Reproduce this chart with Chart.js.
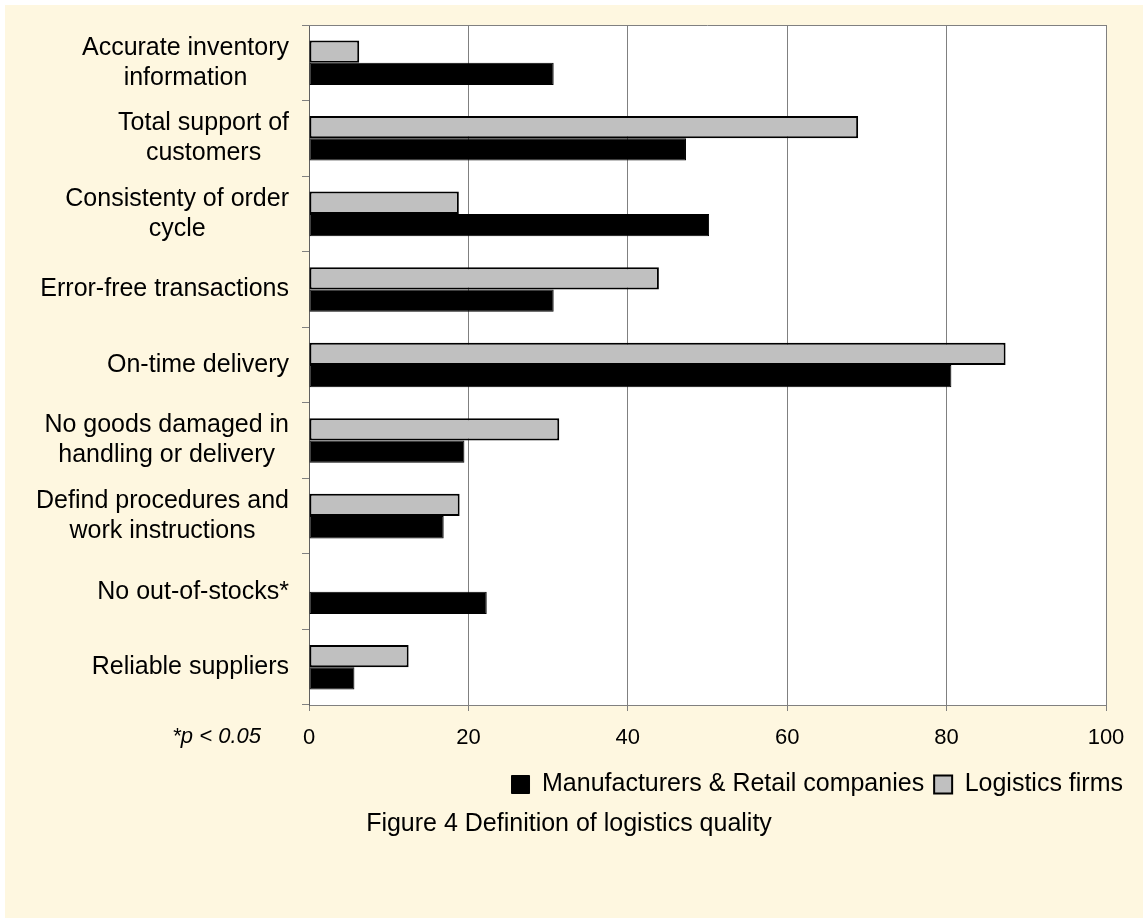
<!DOCTYPE html>
<html>
<head>
<meta charset="utf-8">
<script src="https://cdn.jsdelivr.net/npm/chart.js@4.4.0/dist/chart.umd.min.js"></script>
<style>
  body { margin: 0; background: #ffffff; }
  #wrap { position: absolute; left: 5px; top: 5px; width: 1138px; height: 913px; background: #fef7e0; }
</style>
</head>
<body>
<div id="wrap"><canvas id="chart"></canvas></div>
<script>
const categories = [
    ['Accurate inventory', 'information'],
    ['Total support of', 'customers'],
    ['Consistenty of order', 'cycle'],
    'Error-free transactions',
    'On-time delivery',
    ['No goods damaged in', 'handling or delivery'],
    ['Defind procedures and', 'work instructions'],
    'No out-of-stocks*',
    'Reliable suppliers'
];
const manufacturers = [30.7, 47.3, 50.2, 30.7, 80.6, 19.5, 16.9, 22.3, 5.7];
const logistics = [6.3, 68.9, 18.8, 43.9, 87.4, 31.4, 18.9, 0, 12.5];
const xTicks = [0, 20, 40, 60, 80, 100];
const note = '*p < 0.05';
const caption = 'Figure 4 Definition of logistics quality';

const FONT = "'Liberation Sans', Arial, sans-serif";

// white plot area + top frame line
const framePlugin = {
    id: 'frame',
    beforeDraw(chart) {
        const a = chart.chartArea;
        const ctx = chart.ctx;
        ctx.save();
        ctx.fillStyle = '#ffffff';
        ctx.fillRect(a.left, a.top, a.right - a.left, a.bottom - a.top);
        ctx.restore();
    },
    afterDraw(chart) {
        const a = chart.chartArea;
        const ctx = chart.ctx;
        ctx.save();
        ctx.strokeStyle = '#808080';
        ctx.lineWidth = 1;
        ctx.beginPath();
        ctx.moveTo(a.left, a.top + 0.5);
        ctx.lineTo(a.right, a.top + 0.5);
        ctx.stroke();
        ctx.restore();
    }
};

// category labels: each label centred on its own widest line, right edge fixed
const labelPlugin = {
    id: 'catLabels',
    afterDraw(chart) {
        const ctx = chart.ctx;
        const yScale = chart.scales.y;
        const right = chart.chartArea.left - 20;
        ctx.save();
        ctx.font = '25px ' + FONT;
        ctx.fillStyle = '#000000';
        ctx.textAlign = 'center';
        ctx.textBaseline = 'middle';
        categories.forEach((cat, i) => {
            const lines = Array.isArray(cat) ? cat : [cat];
            const w = Math.max(...lines.map(l => ctx.measureText(l).width));
            const cx = right - w / 2;
            const cy = yScale.getPixelForTick(i);
            lines.forEach((line, j) => {
                ctx.fillText(line, cx, cy + (j - (lines.length - 1) / 2) * 30);
            });
        });
        // significance note
        ctx.font = 'italic 22px ' + FONT;
        ctx.textAlign = 'right';
        ctx.fillText(note, chart.chartArea.left - 48, chart.chartArea.bottom + 32);
        ctx.restore();
    }
};

new Chart(document.getElementById('chart'), {
    type: 'bar',
    data: {
        labels: categories,
        datasets: [{
            label: 'Logistics firms',
            data: logistics,
            backgroundColor: '#c0c0c0',
            borderColor: '#000000',
            borderWidth: (c) => (c.raw ? 2 : 0),
            borderSkipped: false,
            categoryPercentage: 0.59,
            barPercentage: 1.0
        }, {
            label: 'Manufacturers & Retail companies',
            data: manufacturers,
            backgroundColor: '#000000',
            borderColor: '#000000',
            borderWidth: 1,
            borderSkipped: false,
            categoryPercentage: 0.59,
            barPercentage: 1.0
        }]
    },
    options: {
        indexAxis: 'y',
        responsive: true,
        maintainAspectRatio: false,
        animation: false,
        layout: {
            padding: { left: 0, right: 10, top: 20, bottom: 69 }
        },
        scales: {
            x: {
                min: 0,
                max: 100,
                afterBuildTicks: (scale) => {
                    scale.ticks = xTicks.map(v => ({ value: v }));
                },
                afterFit: (scale) => {
                    scale.height = 57;
                },
                grid: {
                    color: '#808080',
                    lineWidth: 1,
                    tickLength: 6,
                    tickColor: '#808080'
                },
                border: { color: '#808080', width: 1 },
                ticks: {
                    color: '#000000',
                    font: { family: FONT, size: 22 },
                    padding: 14,
                    maxRotation: 0
                }
            },
            y: {
                afterFit: (scale) => {
                    scale.width = 304;
                },
                grid: {
                    drawOnChartArea: false,
                    offset: true,
                    tickLength: 7,
                    tickColor: '#808080'
                },
                border: { color: '#606060', width: 1 },
                ticks: {
                    color: 'rgba(0,0,0,0)',
                    font: { family: FONT, size: 25 }
                }
            },
            // empty spacer on the right so the plot stops short of the legend edge
            spacer: {
                type: 'linear',
                axis: 'y',
                position: 'right',
                grid: { display: false },
                border: { display: false },
                ticks: { display: false },
                afterFit: (scale) => {
                    scale.width = 27;
                }
            }
        },
        plugins: {
            legend: {
                position: 'bottom',
                align: 'end',
                labels: {
                    boxWidth: 18,
                    boxHeight: 18,
                    padding: 10,
                    color: '#000000',
                    font: { family: FONT, size: 25 },
                    sort: (a, b) => b.datasetIndex - a.datasetIndex
                }
            },
            title: {
                display: true,
                position: 'bottom',
                text: caption,
                color: '#000000',
                font: { family: FONT, size: 25, weight: 'normal' },
                padding: { top: 2, bottom: 10 }
            },
            tooltip: { enabled: false }
        }
    },
    plugins: [framePlugin, labelPlugin]
});
</script>
</body>
</html>
